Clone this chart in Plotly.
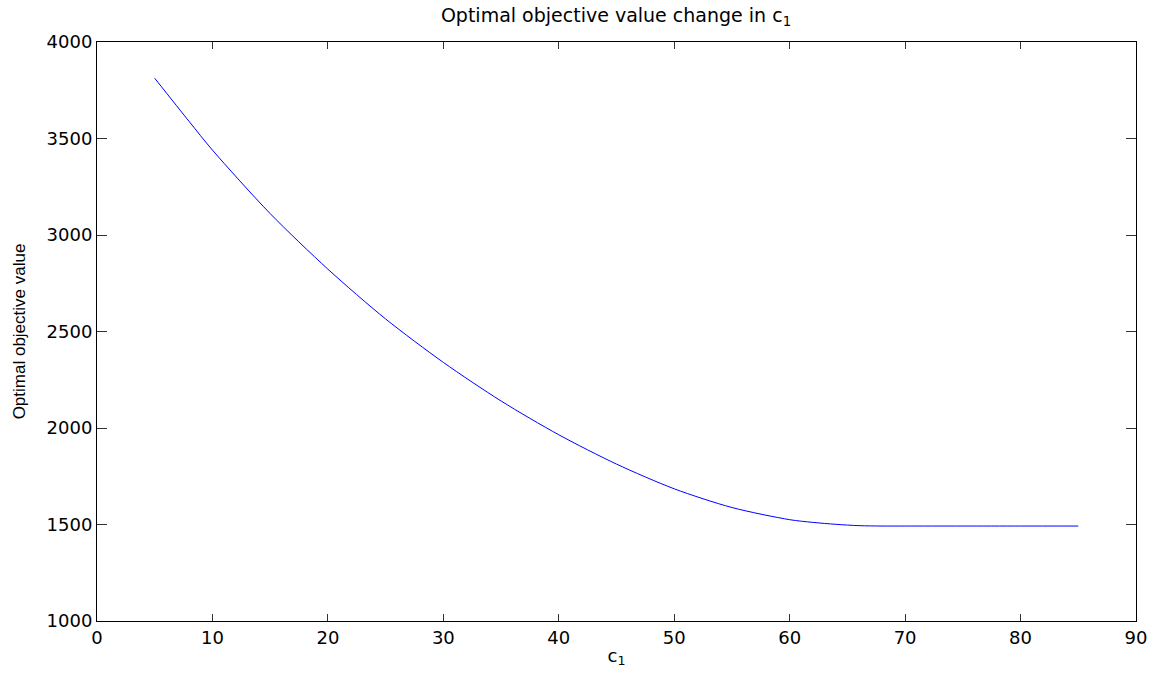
import plotly.graph_objects as go

c1 = [5, 8, 10, 15, 20, 25, 30, 35, 40, 45, 50, 55, 60, 62, 64, 66, 68, 70, 75, 80, 85]
obj = [3812, 3587, 3440, 3111, 2823, 2565, 2340, 2140, 1965, 1813, 1685, 1588, 1525, 1511, 1501, 1494, 1492, 1492, 1492, 1492, 1492]

x_ticks = [0, 10, 20, 30, 40, 50, 60, 70, 80, 90]
y_ticks = [1000, 1500, 2000, 2500, 3000, 3500, 4000]

fig = go.Figure()
fig.add_trace(go.Scatter(x=c1, y=obj, mode="lines",
                         line=dict(color="#0000ff", width=1, shape="spline", smoothing=0.8)))

wide = "DejaVu Sans"
fig.update_layout(
    width=1161, height=673,
    margin=dict(l=97, r=25, t=42, b=52),
    paper_bgcolor="white", plot_bgcolor="white",
    showlegend=False,
    font=dict(family="Liberation Sans", size=14, color="black"),
    title=dict(text="Optimal objective value change in c<sub>1</sub>", x=616 / 1161,
               xanchor="center", y=1 - 15 / 673, yanchor="middle",
               font=dict(family=wide, size=19, color="black")),
)
fig.update_xaxes(range=[0, 90], tickvals=x_ticks, ticks="inside", ticklen=7, tickcolor="#333",
                 showline=True, linecolor="black", linewidth=1, mirror="ticks", showgrid=False, zeroline=False,
                 title=dict(text="c<sub>1</sub>", standoff=2, font=dict(family=wide, size=18, color="black")),
                 tickfont=dict(family=wide, size=18, color="black"))
fig.update_yaxes(range=[1000, 4000], tickvals=y_ticks, ticks="inside", ticklen=10, tickcolor="#333",
                 showline=True, linecolor="black", linewidth=1, mirror="ticks", showgrid=False, zeroline=False,
                 title=dict(text="Optimal objective value", standoff=16,
                            font=dict(family="Liberation Sans", size=17, color="black")),
                 tickfont=dict(family=wide, size=18, color="black"))

fig.write_html("out.html")
